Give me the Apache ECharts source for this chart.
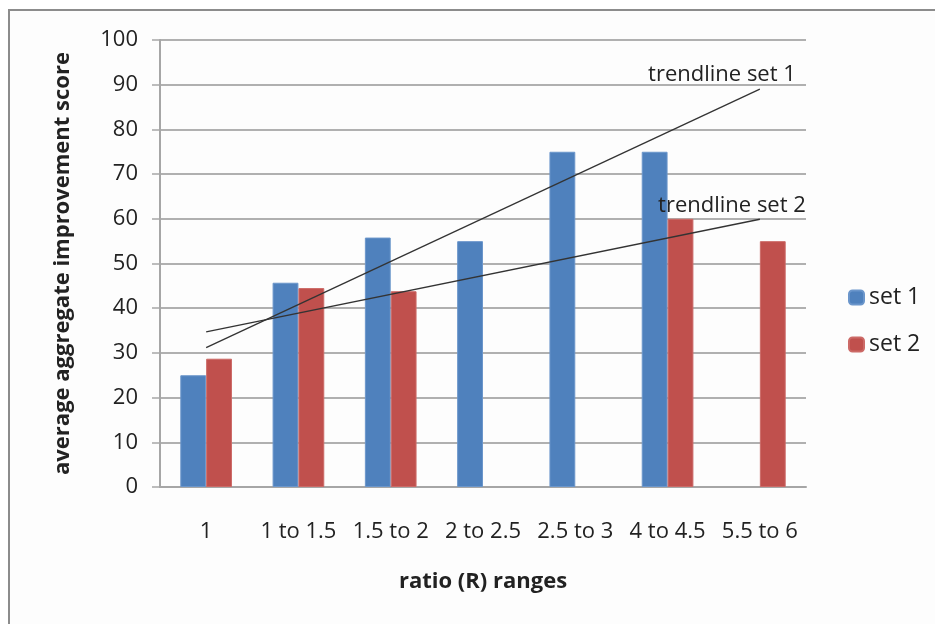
<!DOCTYPE html>
<html>
<head>
<meta charset="utf-8">
<script src="https://cdn.jsdelivr.net/npm/echarts@6/dist/echarts.min.js"></script>
<style>
html,body{margin:0;padding:0;background:#fff;}
#chart{width:935px;height:624px;}
</style>
</head>
<body>
<div id="chart"></div>
<script>
var categories = ['1', '1 to 1.5', '1.5 to 2', '2 to 2.5', '2.5 to 3', '4 to 4.5', '5.5 to 6'];
var set1 = [25, 45.7, 55.8, 55, 75, 75, null];
var set2 = [28.7, 44.5, 43.8, null, null, 60, 55];
// trendline end values (at first and last category)
var trend1Ends = [31.2, 89.0];
var trend2Ends = [34.7, 59.9];
var trend1Label = 'trendline set 1';
var trend2Label = 'trendline set 2';
var yTicks = [0, 10, 20, 30, 40, 50, 60, 70, 80, 90, 100];

function trendData(ends) {
  var d = categories.map(function () { return null; });
  d[0] = ends[0];
  d[d.length - 1] = ends[1];
  return d;
}

var FONT = 'Open Sans';
var chart = echarts.init(document.getElementById('chart'), null, {renderer: 'canvas'});
chart.setOption({
  animation: false,
  backgroundColor: '#fff',
  textStyle: {fontFamily: FONT, color: '#222'},
  graphic: [{
    type: 'rect',
    shape: {x: 9, y: 10, width: 940, height: 630},
    style: {fill: '#fdfdfd', stroke: '#8c8c8c', lineWidth: 2},
    z: -10
  }],
  grid: {left: 160, right: 129, top: 40, bottom: 137, containLabel: false},
  legend: {
    orient: 'vertical',
    left: 843,
    top: 281,
    itemWidth: 15,
    itemHeight: 14,
    itemGap: 24,
    data: ['set 1', 'set 2'],
    textStyle: {fontFamily: FONT, fontSize: 23, color: '#222'}
  },
  xAxis: {
    type: 'category',
    data: categories,
    axisLine: {lineStyle: {color: '#a6a6a6', width: 2}},
    axisTick: {show: false},
    axisLabel: {margin: 34, fontSize: 22, color: '#222', fontFamily: FONT, interval: 0},
    name: 'ratio (R) ranges',
    nameLocation: 'middle',
    nameGap: 84,
    nameTextStyle: {fontSize: 22, fontWeight: 'bold', color: '#222', fontFamily: FONT}
  },
  yAxis: {
    type: 'value',
    min: yTicks[0],
    max: yTicks[yTicks.length - 1],
    interval: yTicks[1] - yTicks[0],
    axisLine: {show: true, lineStyle: {color: '#a6a6a6', width: 2}},
    axisTick: {show: true, length: 8, lineStyle: {color: '#a6a6a6', width: 1.5}},
    axisLabel: {margin: 22, fontSize: 22, color: '#222', fontFamily: FONT},
    splitLine: {lineStyle: {color: '#b0b0b0', width: 2}},
    name: 'average aggregate improvement score',
    nameLocation: 'middle',
    nameGap: 86,
    nameTextStyle: {fontSize: 22, fontWeight: 'bold', color: '#222', fontFamily: FONT}
  },
  series: [
    {
      name: 'set 1', type: 'bar', data: set1, barWidth: '28%', barGap: '0%',
      itemStyle: {color: '#4f81bd', borderColor: '#6b96cb', borderWidth: 1}
    },
    {
      name: 'set 2', type: 'bar', data: set2, barWidth: '28%', barGap: '0%',
      itemStyle: {color: '#c0504d', borderColor: '#cc6a67', borderWidth: 1}
    },
    {
      name: trend1Label, type: 'line', data: trendData(trend1Ends), connectNulls: true,
      symbol: 'none', lineStyle: {color: '#333', width: 1.3}, z: 5,
      endLabel: {show: true, formatter: trend1Label, align: 'right', verticalAlign: 'bottom',
        distance: 0, offset: [36, -3], fontSize: 22, fontFamily: FONT, color: '#222'}
    },
    {
      name: trend2Label, type: 'line', data: trendData(trend2Ends), connectNulls: true,
      symbol: 'none', lineStyle: {color: '#333', width: 1.3}, z: 5,
      endLabel: {show: true, formatter: trend2Label, align: 'right', verticalAlign: 'bottom',
        distance: 0, offset: [46, -3], fontSize: 22, fontFamily: FONT, color: '#222'}
    }
  ]
});
</script>
</body>
</html>
